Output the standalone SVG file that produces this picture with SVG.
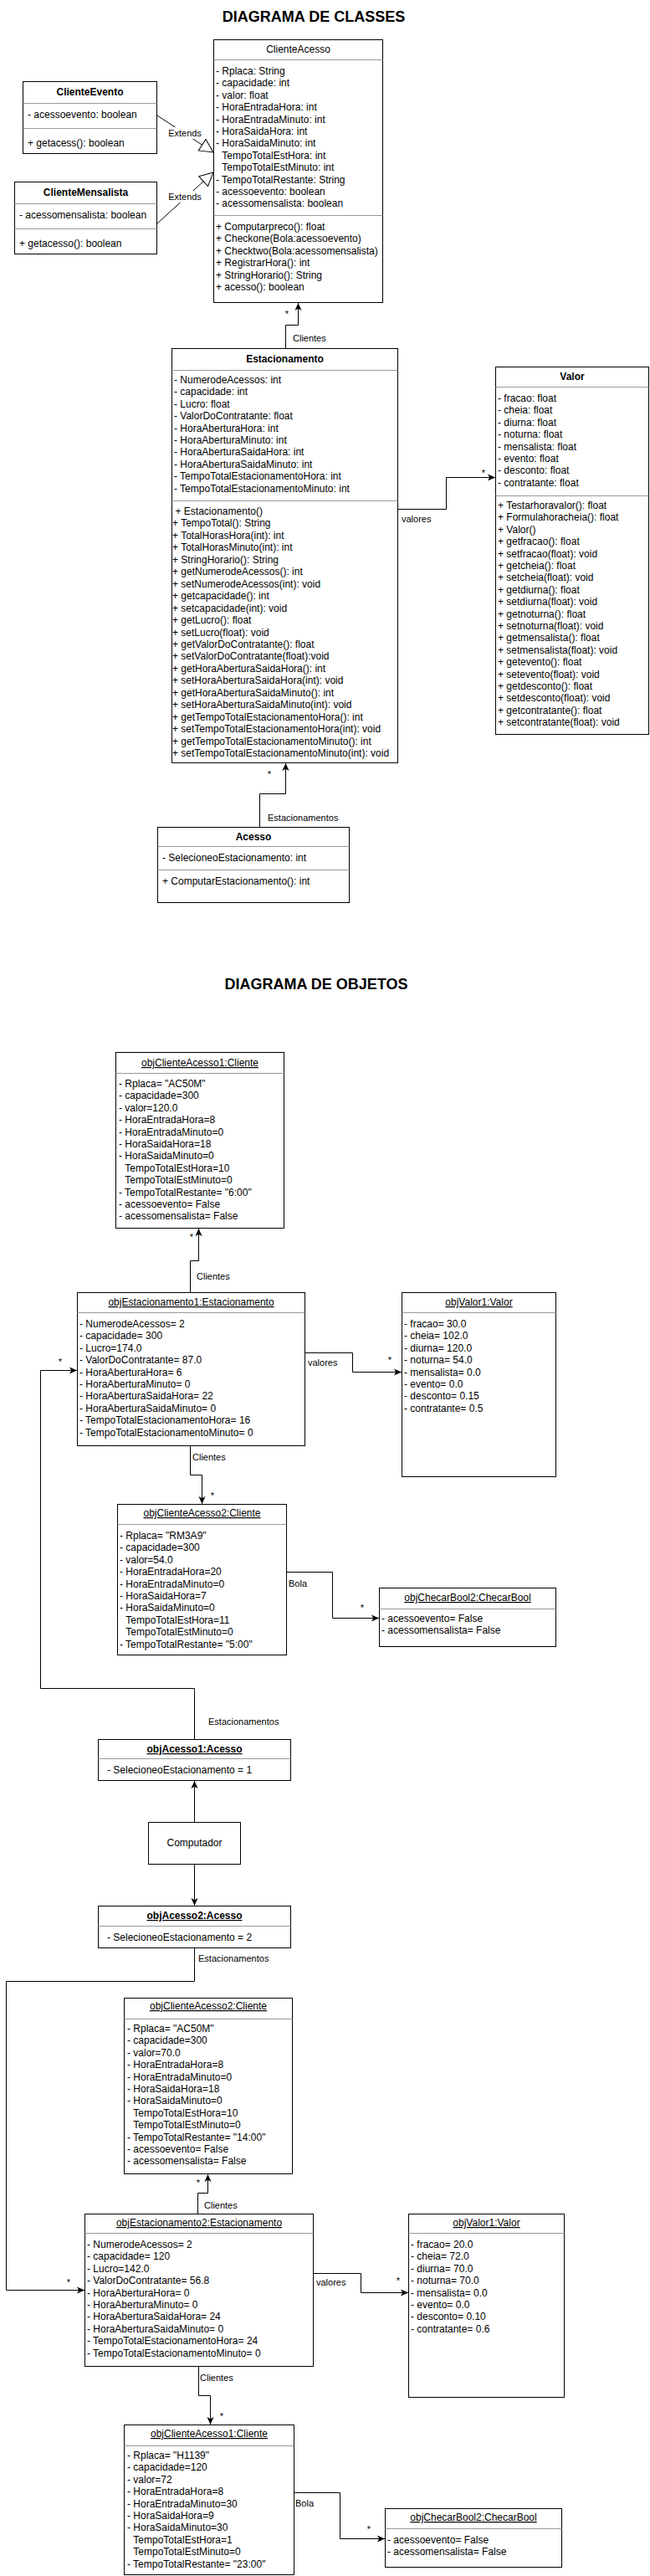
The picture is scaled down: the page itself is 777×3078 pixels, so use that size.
<svg xmlns="http://www.w3.org/2000/svg" width="777" height="3078" viewBox="0 0 777 3078">
<style>
text{font-family:"Liberation Sans",Arial,Helvetica,sans-serif;font-size:12px;fill:#000}
.box{fill:#fff;stroke:#000;stroke-width:1}
.dv{stroke:#999;stroke-width:1;fill:none}
.hd{text-anchor:middle}
.b{font-weight:bold}
.u{text-decoration:underline}
.title{font-size:18px;font-weight:bold;text-anchor:middle}
.edge{fill:none;stroke:#000;stroke-width:1}
.lbl{font-size:11px}
.st{font-size:11px;text-anchor:middle}
.ext{fill:none;stroke:#000;stroke-width:1;marker-end:url(#tri)}
.arr{fill:none;stroke:#000;stroke-width:1;marker-end:url(#arr)}
</style>
<defs>
<marker id="arr" viewBox="0 0 10 10" refX="10" refY="5" markerWidth="9" markerHeight="9" markerUnits="userSpaceOnUse" orient="auto"><path d="M0,0.5 L10,5 L0,9.5 L2.5,5 z" fill="#000"/></marker>
<marker id="tri" viewBox="0 0 18 18" refX="17" refY="9" markerWidth="18" markerHeight="18" markerUnits="userSpaceOnUse" orient="auto"><path d="M1,1 L17,9 L1,17 z" fill="#fff" stroke="#000" stroke-width="1"/></marker>
</defs>
<rect width="777" height="3078" fill="#fff"/>

<text class="title" x="375" y="26">DIAGRAMA DE CLASSES</text>
<text class="title" x="378" y="1182">DIAGRAMA DE OBJETOS</text>

<g id="connectors">
<path class="ext" d="M188,138 L255,182"/>
<path class="ext" d="M188,267 L255,206"/>
<rect x="201" y="152" width="40" height="14" fill="#fff"/>
<text class="st" x="221" y="163">Extends</text>
<rect x="201" y="228" width="40" height="14" fill="#fff"/>
<text class="st" x="221" y="239">Extends</text>

<path class="arr" d="M341.5,416 V388.5 H356.5 V362"/>
<text class="st" x="343" y="379">*</text>
<text class="lbl" x="350" y="408">Clientes</text>

<path class="arr" d="M476,608.5 H533.5 V570.5 H592"/>
<text class="st" x="578" y="569">*</text>
<text class="lbl" x="480" y="624">valores</text>

<path class="arr" d="M310.5,988 V948.5 H341.5 V912"/>
<text class="st" x="322" y="929">*</text>
<text class="lbl" x="320" y="981">Estacionamentos</text>

<path class="arr" d="M227.5,1544 V1506.5 H237.5 V1468"/>
<text class="st" x="229" y="1482">*</text>
<text class="lbl" x="235" y="1529">Clientes</text>

<path class="arr" d="M364,1616.5 H421.5 V1639.5 H480"/>
<text class="lbl" x="368" y="1632">valores</text>
<text class="st" x="466" y="1629">*</text>

<path class="arr" d="M227.5,1728 V1762.5 H241.5 V1797"/>
<text class="lbl" x="230" y="1745">Clientes</text>
<text class="st" x="254" y="1791">*</text>

<path class="arr" d="M342,1878.5 H397.5 V1933.5 H453"/>
<text class="lbl" x="345" y="1896">Bola</text>
<text class="st" x="433" y="1925">*</text>

<path class="arr" d="M232.5,2078 V2017.5 H48.5 V1637.5 H92"/>
<text class="lbl" x="249" y="2061">Estacionamentos</text>
<text class="st" x="72" y="1631">*</text>

<path class="arr" d="M232.5,2177 V2128"/>
<path class="arr" d="M232.5,2228 V2277"/>

<path class="arr" d="M232.5,2328 V2367.5 H7.5 V2736.5 H101"/>
<text class="lbl" x="237" y="2344">Estacionamentos</text>
<text class="st" x="82" y="2731">*</text>

<path class="arr" d="M236.5,2645 V2620.5 H248.5 V2598"/>
<text class="lbl" x="244" y="2639">Clientes</text>
<text class="st" x="237" y="2612">*</text>

<path class="arr" d="M375,2716.5 H431.5 V2739.5 H488"/>
<text class="lbl" x="378" y="2731">valores</text>
<text class="st" x="476" y="2729">*</text>

<path class="arr" d="M237.5,2828 V2862.5 H251.5 V2897"/>
<text class="lbl" x="239" y="2845">Clientes</text>
<text class="st" x="265" y="2891">*</text>

<path class="arr" d="M352,2978.5 H406.5 V3033.5 H460"/>
<text class="lbl" x="353" y="2995">Bola</text>
<text class="st" x="441" y="3026">*</text>
</g>

<g id="ClienteEvento">
<rect class="box" x="27.5" y="97.5" width="160" height="86"/>
<path class="dv" d="M27.5,123.5 H187.5 M27.5,153.5 H187.5"/>
<text class="hd b" x="107.5" y="114">ClienteEvento</text>
<text x="33" y="141">- acessoevento: boolean</text>
<text x="33" y="175">+ getacess(): boolean</text>
</g>

<g id="ClienteMensalista">
<rect class="box" x="17.5" y="217.5" width="170" height="86"/>
<path class="dv" d="M17.5,243.5 H187.5 M17.5,273.5 H187.5"/>
<text class="hd b" x="102.5" y="234">ClienteMensalista</text>
<text x="23" y="261">- acessomensalista: boolean</text>
<text x="23" y="295">+ getacesso(): boolean</text>
</g>

<g id="ClienteAcesso">
<rect class="box" x="255.5" y="47.5" width="202" height="314"/>
<path class="dv" d="M255.5,71.5 H457.5 M255.5,257.5 H457.5"/>
<text class="hd" x="356.5" y="63">ClienteAcesso</text>
<text x="258">
<tspan x="258" y="89">- Rplaca: String</tspan>
<tspan x="258" y="103.4">- capacidade: int</tspan>
<tspan x="258" y="117.8">- valor: float</tspan>
<tspan x="258" y="132.2">- HoraEntradaHora: int</tspan>
<tspan x="258" y="146.6">- HoraEntradaMinuto: int</tspan>
<tspan x="258" y="161">- HoraSaidaHora: int</tspan>
<tspan x="258" y="175.4">- HoraSaidaMinuto: int</tspan>
<tspan x="265.3" y="189.8">TempoTotalEstHora: int</tspan>
<tspan x="265.3" y="204.2">TempoTotalEstMinuto: int</tspan>
<tspan x="258" y="218.6">- TempoTotalRestante: String</tspan>
<tspan x="258" y="233">- acessoevento: boolean</tspan>
<tspan x="258" y="247.4">- acessomensalista: boolean</tspan>
</text>
<text x="258">
<tspan x="258" y="275">+ Computarpreco(): float</tspan>
<tspan x="258" y="289.4">+ Checkone(Bola:acessoevento)</tspan>
<tspan x="258" y="303.8">+ Checktwo(Bola:acessomensalista)</tspan>
<tspan x="258" y="318.2">+ RegistrarHora(): int</tspan>
<tspan x="258" y="332.6">+ StringHorario(): String</tspan>
<tspan x="258" y="347">+ acesso(): boolean</tspan>
</text>
</g>

<g id="Estacionamento">
<rect class="box" x="205.5" y="416.5" width="270" height="495"/>
<path class="dv" d="M205.5,442.5 H475.5 M205.5,598.5 H475.5"/>
<text class="hd b" x="340.5" y="433">Estacionamento</text>
<text x="208">
<tspan x="208" y="458">- NumerodeAcessos: int</tspan>
<tspan x="208" y="472.4">- capacidade: int</tspan>
<tspan x="208" y="486.8">- Lucro: float</tspan>
<tspan x="208" y="501.2">- ValorDoContratante: float</tspan>
<tspan x="208" y="515.6">- HoraAberturaHora: int</tspan>
<tspan x="208" y="530">- HoraAberturaMinuto: int</tspan>
<tspan x="208" y="544.4">- HoraAberturaSaidaHora: int</tspan>
<tspan x="208" y="558.8">- HoraAberturaSaidaMinuto: int</tspan>
<tspan x="208" y="573.2">- TempoTotalEstacionamentoHora: int</tspan>
<tspan x="208" y="587.6">- TempoTotalEstacionamentoMinuto: int</tspan>
</text>
<text x="206">
<tspan x="209.5" y="615">+ Estacionamento()</tspan>
<tspan x="206" y="629.45">+ TempoTotal(): String</tspan>
<tspan x="206" y="643.9">+ TotalHorasHora(int): int</tspan>
<tspan x="206" y="658.35">+ TotalHorasMinuto(int): int</tspan>
<tspan x="206" y="672.8">+ StringHorario(): String</tspan>
<tspan x="206" y="687.25">+ getNumerodeAcessos(): int</tspan>
<tspan x="206" y="701.7">+ setNumerodeAcessos(int): void</tspan>
<tspan x="206" y="716.15">+ getcapacidade(): int</tspan>
<tspan x="206" y="730.6">+ setcapacidade(int): void</tspan>
<tspan x="206" y="745.05">+ getLucro(): float</tspan>
<tspan x="206" y="759.5">+ setLucro(float): void</tspan>
<tspan x="206" y="773.95">+ getValorDoContratante(): float</tspan>
<tspan x="206" y="788.4">+ setValorDoContratante(float):void</tspan>
<tspan x="206" y="802.85">+ getHoraAberturaSaidaHora(): int</tspan>
<tspan x="206" y="817.3">+ setHoraAberturaSaidaHora(int): void</tspan>
<tspan x="206" y="831.75">+ getHoraAberturaSaidaMinuto(): int</tspan>
<tspan x="206" y="846.2">+ setHoraAberturaSaidaMinuto(int): void</tspan>
<tspan x="206" y="860.65">+ getTempoTotalEstacionamentoHora(): int</tspan>
<tspan x="206" y="875.1">+ setTempoTotalEstacionamentoHora(int): void</tspan>
<tspan x="206" y="889.55">+ getTempoTotalEstacionamentoMinuto(): int</tspan>
<tspan x="206" y="904">+ setTempoTotalEstacionamentoMinuto(int): void</tspan>
</text>
</g>

<g id="Valor">
<rect class="box" x="592.5" y="438.5" width="183" height="439"/>
<path class="dv" d="M592.5,462.5 H775.5 M592.5,592.5 H775.5"/>
<text class="hd b" x="684" y="454">Valor</text>
<text x="595">
<tspan x="595" y="480">- fracao: float</tspan>
<tspan x="595" y="494.4">- cheia: float</tspan>
<tspan x="595" y="508.8">- diurna: float</tspan>
<tspan x="595" y="523.2">- noturna: float</tspan>
<tspan x="595" y="537.6">- mensalista: float</tspan>
<tspan x="595" y="552">- evento: float</tspan>
<tspan x="595" y="566.4">- desconto: float</tspan>
<tspan x="595" y="580.8">- contratante: float</tspan>
</text>
<text x="595">
<tspan x="595" y="608">+ Testarhoravalor(): float</tspan>
<tspan x="595" y="622.4">+ Formulahoracheia(): float</tspan>
<tspan x="595" y="636.8">+ Valor()</tspan>
<tspan x="595" y="651.2">+ getfracao(): float</tspan>
<tspan x="595" y="665.6">+ setfracao(float): void</tspan>
<tspan x="595" y="680">+ getcheia(): float</tspan>
<tspan x="595" y="694.4">+ setcheia(float): void</tspan>
<tspan x="595" y="708.8">+ getdiurna(): float</tspan>
<tspan x="595" y="723.2">+ setdiurna(float): void</tspan>
<tspan x="595" y="737.6">+ getnoturna(): float</tspan>
<tspan x="595" y="752">+ setnoturna(float): void</tspan>
<tspan x="595" y="766.4">+ getmensalista(): float</tspan>
<tspan x="595" y="780.8">+ setmensalista(float): void</tspan>
<tspan x="595" y="795.2">+ getevento(): float</tspan>
<tspan x="595" y="809.6">+ setevento(float): void</tspan>
<tspan x="595" y="824">+ getdesconto(): float</tspan>
<tspan x="595" y="838.4">+ setdesconto(float): void</tspan>
<tspan x="595" y="852.8">+ getcontratante(): float</tspan>
<tspan x="595" y="867.2">+ setcontratante(float): void</tspan>
</text>
</g>

<g id="Acesso">
<rect class="box" x="188.5" y="988.5" width="229" height="90"/>
<path class="dv" d="M188.5,1011.5 H417.5 M188.5,1039.5 H417.5"/>
<text class="hd b" x="303" y="1004">Acesso</text>
<text x="194" y="1029">- SelecioneoEstacionamento: int</text>
<text x="194" y="1057">+ ComputarEstacionamento(): int</text>
</g>

<g id="objClienteAcesso1">
<rect class="box" x="138.5" y="1257.5" width="201" height="210"/>
<path class="dv" d="M138.5,1282.5 H339.5"/>
<text class="hd u" x="239" y="1274">objClienteAcesso1:Cliente</text>
<text x="142">
<tspan x="142" y="1299">- Rplaca= "AC50M"</tspan>
<tspan x="142" y="1313.4">- capacidade=300</tspan>
<tspan x="142" y="1327.8">- valor=120.0</tspan>
<tspan x="142" y="1342.2">- HoraEntradaHora=8</tspan>
<tspan x="142" y="1356.6">- HoraEntradaMinuto=0</tspan>
<tspan x="142" y="1371">- HoraSaidaHora=18</tspan>
<tspan x="142" y="1385.4">- HoraSaidaMinuto=0</tspan>
<tspan x="149.3" y="1399.8">TempoTotalEstHora=10</tspan>
<tspan x="149.3" y="1414.2">TempoTotalEstMinuto=0</tspan>
<tspan x="142" y="1428.6">- TempoTotalRestante= "6:00"</tspan>
<tspan x="142" y="1443">- acessoevento= False</tspan>
<tspan x="142" y="1457.4">- acessomensalista= False</tspan>
</text>
</g>

<g id="objEstacionamento1">
<rect class="box" x="92.5" y="1544.5" width="272" height="183"/>
<path class="dv" d="M92.5,1568.5 H364.5"/>
<text class="hd u" x="228.5" y="1560">objEstacionamento1:Estacionamento</text>
<text x="95">
<tspan x="95" y="1586">- NumerodeAcessos= 2</tspan>
<tspan x="95" y="1600.4">- capacidade= 300</tspan>
<tspan x="95" y="1614.8">- Lucro=174.0</tspan>
<tspan x="95" y="1629.2">- ValorDoContratante= 87.0</tspan>
<tspan x="95" y="1643.6">- HoraAberturaHora= 6</tspan>
<tspan x="95" y="1658">- HoraAberturaMinuto= 0</tspan>
<tspan x="95" y="1672.4">- HoraAberturaSaidaHora= 22</tspan>
<tspan x="95" y="1686.8">- HoraAberturaSaidaMinuto= 0</tspan>
<tspan x="95" y="1701.2">- TempoTotalEstacionamentoHora= 16</tspan>
<tspan x="95" y="1715.6">- TempoTotalEstacionamentoMinuto= 0</tspan>
</text>
</g>

<g id="objValor1">
<rect class="box" x="480.5" y="1544.5" width="184" height="220"/>
<path class="dv" d="M480.5,1568.5 H664.5"/>
<text class="hd u" x="572.5" y="1560">objValor1:Valor</text>
<text x="483">
<tspan x="483" y="1586">- fracao= 30.0</tspan>
<tspan x="483" y="1600.4">- cheia= 102.0</tspan>
<tspan x="483" y="1614.8">- diurna= 120.0</tspan>
<tspan x="483" y="1629.2">- noturna= 54.0</tspan>
<tspan x="483" y="1643.6">- mensalista= 0.0</tspan>
<tspan x="483" y="1658">- evento= 0.0</tspan>
<tspan x="483" y="1672.4">- desconto= 0.15</tspan>
<tspan x="483" y="1686.8">- contratante= 0.5</tspan>
</text>
</g>

<g id="objClienteAcesso2">
<rect class="box" x="140.5" y="1797.5" width="202" height="180"/>
<path class="dv" d="M140.5,1821.5 H342.5"/>
<text class="hd u" x="241.5" y="1812">objClienteAcesso2:Cliente</text>
<text x="143">
<tspan x="143" y="1839">- Rplaca= "RM3A9"</tspan>
<tspan x="143" y="1853.4">- capacidade=300</tspan>
<tspan x="143" y="1867.8">- valor=54.0</tspan>
<tspan x="143" y="1882.2">- HoraEntradaHora=20</tspan>
<tspan x="143" y="1896.6">- HoraEntradaMinuto=0</tspan>
<tspan x="143" y="1911">- HoraSaidaHora=7</tspan>
<tspan x="143" y="1925.4">- HoraSaidaMinuto=0</tspan>
<tspan x="150.3" y="1939.8">TempoTotalEstHora=11</tspan>
<tspan x="150.3" y="1954.2">TempoTotalEstMinuto=0</tspan>
<tspan x="143" y="1968.6">- TempoTotalRestante= "5:00"</tspan>
</text>
</g>

<g id="objChecarBool2">
<rect class="box" x="453.5" y="1897.5" width="211" height="70"/>
<path class="dv" d="M453.5,1922.5 H664.5"/>
<text class="hd u" x="559" y="1913">objChecarBool2:ChecarBool</text>
<text x="456" y="1938">- acessoevento= False</text>
<text x="456" y="1952.4">- acessomensalista= False</text>
</g>

<g id="objAcesso1">
<rect class="box" x="117.5" y="2078.5" width="230" height="49"/>
<path class="dv" d="M117.5,2101.5 H347.5"/>
<text class="hd b u" x="232.5" y="2094">objAcesso1:Acesso</text>
<text x="128" y="2119">- SelecioneoEstacionamento = 1</text>
</g>

<g id="Computador">
<rect class="box" x="177.5" y="2177.5" width="110" height="50"/>
<text class="hd" x="232.5" y="2206">Computador</text>
</g>

<g id="objAcesso2">
<rect class="box" x="117.5" y="2277.5" width="230" height="50"/>
<path class="dv" d="M117.5,2301.5 H347.5"/>
<text class="hd b u" x="232.5" y="2293">objAcesso2:Acesso</text>
<text x="128" y="2319">- SelecioneoEstacionamento = 2</text>
</g>

<g id="objClienteAcesso2b">
<rect class="box" x="148.5" y="2387.5" width="201" height="210"/>
<path class="dv" d="M148.5,2412.5 H349.5"/>
<text class="hd u" x="249" y="2401">objClienteAcesso2:Cliente</text>
<text x="152">
<tspan x="152" y="2428">- Rplaca= "AC50M"</tspan>
<tspan x="152" y="2442.4">- capacidade=300</tspan>
<tspan x="152" y="2456.8">- valor=70.0</tspan>
<tspan x="152" y="2471.2">- HoraEntradaHora=8</tspan>
<tspan x="152" y="2485.6">- HoraEntradaMinuto=0</tspan>
<tspan x="152" y="2500">- HoraSaidaHora=18</tspan>
<tspan x="152" y="2514.4">- HoraSaidaMinuto=0</tspan>
<tspan x="159.3" y="2528.8">TempoTotalEstHora=10</tspan>
<tspan x="159.3" y="2543.2">TempoTotalEstMinuto=0</tspan>
<tspan x="152" y="2557.6">- TempoTotalRestante= "14:00"</tspan>
<tspan x="152" y="2572">- acessoevento= False</tspan>
<tspan x="152" y="2586.4">- acessomensalista= False</tspan>
</text>
</g>

<g id="objEstacionamento2">
<rect class="box" x="101.5" y="2645.5" width="273" height="182"/>
<path class="dv" d="M101.5,2668.5 H374.5"/>
<text class="hd u" x="238" y="2660">objEstacionamento2:Estacionamento</text>
<text x="104">
<tspan x="104" y="2686">- NumerodeAcessos= 2</tspan>
<tspan x="104" y="2700.4">- capacidade= 120</tspan>
<tspan x="104" y="2714.8">- Lucro=142.0</tspan>
<tspan x="104" y="2729.2">- ValorDoContratante= 56.8</tspan>
<tspan x="104" y="2743.6">- HoraAberturaHora= 0</tspan>
<tspan x="104" y="2758">- HoraAberturaMinuto= 0</tspan>
<tspan x="104" y="2772.4">- HoraAberturaSaidaHora= 24</tspan>
<tspan x="104" y="2786.8">- HoraAberturaSaidaMinuto= 0</tspan>
<tspan x="104" y="2801.2">- TempoTotalEstacionamentoHora= 24</tspan>
<tspan x="104" y="2815.6">- TempoTotalEstacionamentoMinuto= 0</tspan>
</text>
</g>

<g id="objValor1b">
<rect class="box" x="488.5" y="2645.5" width="186" height="219"/>
<path class="dv" d="M488.5,2668.5 H674.5"/>
<text class="hd u" x="581.5" y="2660">objValor1:Valor</text>
<text x="491">
<tspan x="491" y="2686">- fracao= 20.0</tspan>
<tspan x="491" y="2700.4">- cheia= 72.0</tspan>
<tspan x="491" y="2714.8">- diurna= 70.0</tspan>
<tspan x="491" y="2729.2">- noturna= 70.0</tspan>
<tspan x="491" y="2743.6">- mensalista= 0.0</tspan>
<tspan x="491" y="2758">- evento= 0.0</tspan>
<tspan x="491" y="2772.4">- desconto= 0.10</tspan>
<tspan x="491" y="2786.8">- contratante= 0.6</tspan>
</text>
</g>

<g id="objClienteAcesso1b">
<rect class="box" x="148.5" y="2897.5" width="203" height="179"/>
<path class="dv" d="M148.5,2922.5 H351.5"/>
<text class="hd u" x="250" y="2912">objClienteAcesso1:Cliente</text>
<text x="152">
<tspan x="152" y="2938">- Rplaca= "H1139"</tspan>
<tspan x="152" y="2952.4">- capacidade=120</tspan>
<tspan x="152" y="2966.8">- valor=72</tspan>
<tspan x="152" y="2981.2">- HoraEntradaHora=8</tspan>
<tspan x="152" y="2995.6">- HoraEntradaMinuto=30</tspan>
<tspan x="152" y="3010">- HoraSaidaHora=9</tspan>
<tspan x="152" y="3024.4">- HoraSaidaMinuto=30</tspan>
<tspan x="159.3" y="3038.8">TempoTotalEstHora=1</tspan>
<tspan x="159.3" y="3053.2">TempoTotalEstMinuto=0</tspan>
<tspan x="152" y="3067.6">- TempoTotalRestante= "23:00"</tspan>
</text>
</g>

<g id="objChecarBool2b">
<rect class="box" x="460.5" y="2997.5" width="211" height="70"/>
<path class="dv" d="M460.5,3021.5 H671.5"/>
<text class="hd u" x="566" y="3012">objChecarBool2:ChecarBool</text>
<text x="463" y="3039">- acessoevento= False</text>
<text x="463" y="3053.4">- acessomensalista= False</text>
</g>
</svg>
